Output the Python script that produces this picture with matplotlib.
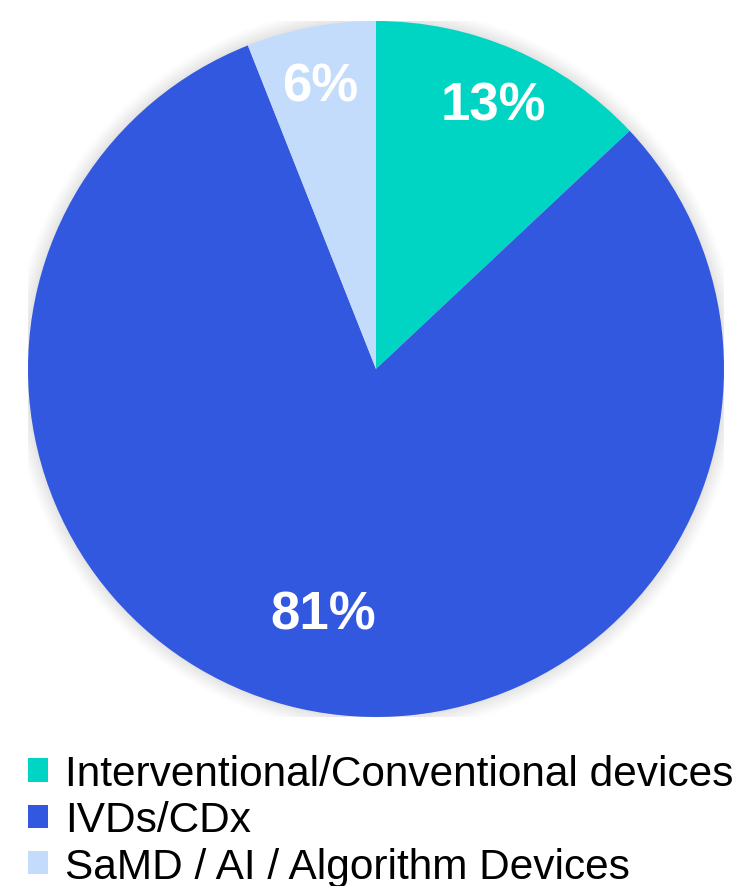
import numpy as np
import matplotlib.pyplot as plt
from matplotlib.patches import Circle

categories = ['Interventional/Conventional devices', 'IVDs/CDx', 'SaMD / AI / Algorithm Devices']
shares = [13, 81, 6]
colors = ['#00D5C3', '#3358E0', '#C3DCFB']
label_dist = [0.85, 0.70, 0.85]

fig = plt.figure(figsize=(7.39, 8.87), dpi=100)
ax = fig.add_axes([28 / 739, 1 - 718 / 887, 696 / 739, 696 / 887])

# faint glow behind the pie
for r, a in zip(np.linspace(1.045, 1.0, 8), np.linspace(0.02, 0.06, 8)):
    ax.add_patch(Circle((0, 0), r, color='#999999', alpha=a, lw=0, zorder=0))

wedges, _ = ax.pie(shares, colors=colors, startangle=90, counterclock=False,
                   radius=1.0, wedgeprops=dict(linewidth=0))

for w, s, d in zip(wedges, shares, label_dist):
    ang = np.deg2rad((w.theta1 + w.theta2) / 2)
    ax.text(d * np.cos(ang), d * np.sin(ang) - 0.022, f'{s}%', ha='center', va='center',
            color='white', fontsize=38, fontweight='bold', family='Liberation Sans')

ax.set_xlim(-1, 1)
ax.set_ylim(-1, 1)
ax.set_aspect('equal')
ax.axis('off')

leg = fig.legend(wedges, categories, loc='upper left', bbox_to_anchor=(28 / 739, 1 - 755 / 887),
                 frameon=False, prop={'family': 'Liberation Sans', 'size': 30.5},
                 handlelength=0.47, handleheight=0.47, handletextpad=0.4,
                 labelspacing=0.15, borderpad=0, borderaxespad=0)

fig.savefig('out.png', dpi=100)
